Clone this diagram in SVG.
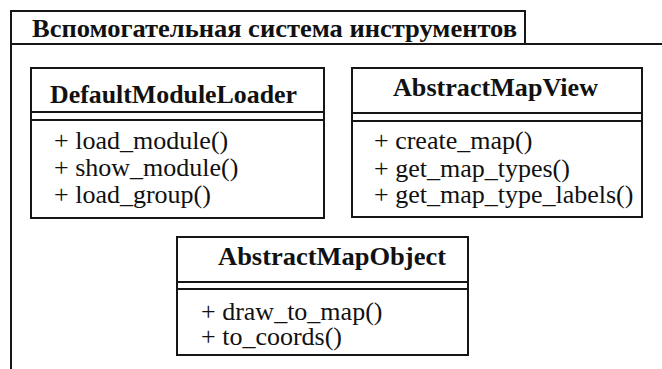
<svg xmlns="http://www.w3.org/2000/svg" width="662" height="369" viewBox="0 0 662 369">
<style>
.box{fill:#fff;stroke:#161616;stroke-width:2}
.ln{stroke:#161616;stroke-width:2;fill:none}
text{font-family:'Liberation Serif','Times New Roman','DejaVu Serif',serif;font-size:26px;fill:#111}
.b{font-weight:bold}
</style>
<rect x="0" y="0" width="662" height="369" fill="#fff"/>
<g font-family="'Liberation Serif', 'DejaVu Serif', serif">
<g id="package">
<rect class="box" x="11" y="11" width="514" height="33"/>
<path class="ln" d="M11 44 H662 M11 11 V369"/>
<text class="b" x="32" y="37" textLength="485" lengthAdjust="spacingAndGlyphs">Вспомогательная система инструментов</text>
</g>
<g id="DefaultModuleLoader">
<rect class="box" x="31" y="68" width="293" height="150"/>
<path class="ln" d="M31 112 H324 M31 120 H324"/>
<text class="b" x="50" y="103" textLength="247" lengthAdjust="spacingAndGlyphs">DefaultModuleLoader</text>
<text x="54" y="149">+ load_module()</text>
<text x="54" y="176">+ show_module()</text>
<text x="54" y="203">+ load_group()</text>
</g>
<g id="AbstractMapView">
<rect class="box" x="352" y="68" width="290" height="149"/>
<path class="ln" d="M352 113 H642 M352 121 H642"/>
<text class="b" x="393" y="96" textLength="205" lengthAdjust="spacingAndGlyphs">AbstractMapView</text>
<text x="374" y="149">+ create_map()</text>
<text x="374" y="177">+ get_map_types()</text>
<text x="374" y="203">+ get_map_type_labels()</text>
</g>
<g id="AbstractMapObject">
<rect class="box" x="177" y="237" width="291" height="118"/>
<path class="ln" d="M177 282 H468 M177 289 H468"/>
<text class="b" x="218" y="265" textLength="228" lengthAdjust="spacingAndGlyphs">AbstractMapObject</text>
<text x="201" y="320">+ draw_to_map()</text>
<text x="201" y="345">+ to_coords()</text>
</g>
</g>
<g id="connectors"></g>
</svg>
